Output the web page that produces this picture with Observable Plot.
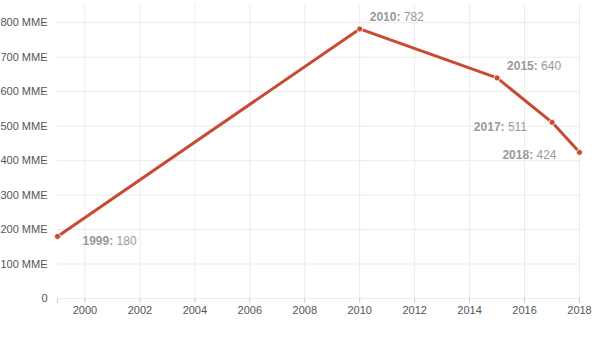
<!DOCTYPE html>
<html>
<head>
<meta charset="utf-8">
<script src="https://cdn.jsdelivr.net/npm/d3@7"></script>
<script src="https://cdn.jsdelivr.net/npm/@observablehq/plot@0.6"></script>
<style>
  html, body { margin: 0; padding: 0; background: #fff; }
  svg { font-family: "Liberation Sans", Arial, Helvetica, sans-serif; }
</style>
</head>
<body>
<div id="chart"></div>
<script>
const years = [1999, 2010, 2015, 2017, 2018];
const values = [180, 782, 640, 511, 424];
const yTicks = [0, 100, 200, 300, 400, 500, 600, 700, 800];
const xTicks = [1999, 2000, 2002, 2004, 2006, 2008, 2010, 2012, 2014, 2016, 2018];
const xGrid = [2000, 2002, 2004, 2006, 2008, 2010, 2012, 2014, 2016, 2018];

const data = years.map((y, i) => ({year: y, value: values[i], label: `${y}: ${values[i]}`}));

// label placement per point (anchor side)
const labelStyle = {
  1999: {anchor: "start", dx: 25, dy: 5},
  2010: {anchor: "start", dx: 10, dy: -12},
  2015: {anchor: "start", dx: 10, dy: -12},
  2017: {anchor: "end", dx: -25, dy: 5},
  2018: {anchor: "end", dx: -23, dy: 3}
};

const labelMarks = data.map(d => {
  const s = labelStyle[d.year];
  return Plot.text([d], {
    x: "year", y: "value", text: "label",
    textAnchor: s.anchor, dx: s.dx, dy: s.dy,
    fill: "#999", fontSize: 12, className: "ptlabel"
  });
});

const chart = Plot.plot({
  width: 600,
  height: 343,
  marginLeft: 57,
  marginRight: 21,
  marginTop: 5,
  marginBottom: 45,
  style: {fontSize: "11px", color: "#555", background: "#fff"},
  x: {domain: [1999, 2018], label: null},
  y: {domain: [0, 850], label: null},
  marks: [
    Plot.ruleX(xGrid, {x: d => d, stroke: "#ebebeb", strokeWidth: 1}),
    Plot.ruleY(yTicks, {y: d => d, stroke: "#ebebeb", strokeWidth: 1}),
    Plot.axisY(yTicks, {tickSize: 0, tickPadding: 10, tickFormat: d => d === 0 ? "0" : `${d} MME`, fill: "#555", fontSize: 11}),
    Plot.axisX(xTicks, {tickSize: 5, tickPadding: 3, stroke: "#ccc", fill: "#555", fontSize: 11, tickFormat: d => d === 1999 ? "" : String(d)}),
    Plot.line(data, {x: "year", y: "value", stroke: "#c94a32", strokeWidth: 3, strokeLinejoin: "round"}),
    Plot.dot(data, {x: "year", y: "value", r: 3, fill: "#c94a32", stroke: "#fff", strokeWidth: 0.8}),
    ...labelMarks
  ]
});

// make the year part bold
d3.select(chart).selectAll(".ptlabel text").each(function() {
  const t = this.textContent;
  const idx = t.indexOf(":");
  const yr = t.slice(0, idx + 1);
  const val = t.slice(idx + 1);
  const sel = d3.select(this);
  sel.text(null);
  sel.append("tspan").attr("font-weight", "bold").text(yr);
  sel.append("tspan").text(val);
});

document.getElementById("chart").appendChild(chart);
</script>
</body>
</html>
